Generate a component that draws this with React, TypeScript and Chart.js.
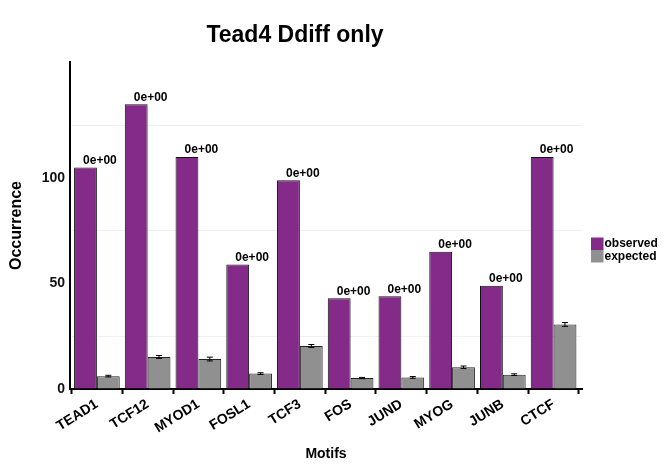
import React, { useEffect, useRef } from "react";
import { Chart, registerables } from "chart.js";

Chart.register(...registerables);

const categories = ["TEAD1", "TCF12", "MYOD1", "FOSL1", "TCF3", "FOS", "JUND", "MYOG", "JUNB", "CTCF"];
const observed = [105, 135, 110, 59, 99, 43, 44, 65, 49, 110];
const expected = [6.1, 15.2, 14.2, 7.3, 20.4, 5.2, 5.5, 10.3, 6.8, 30.6];
const expectedErr = [0.4, 0.7, 0.9, 0.4, 0.7, 0.3, 0.4, 0.6, 0.4, 0.9];
const pLabels = ["0e+00", "0e+00", "0e+00", "0e+00", "0e+00", "0e+00", "0e+00", "0e+00", "0e+00", "0e+00"];
const yTicks = [0, 25, 50, 75, 100, 125];
const yLabelTicks = [0, 50, 100];
const titleText = "Tead4 Ddiff only";
const xTitle = "Motifs";
const yTitle = "Occurrence";
const seriesNames = ["observed", "expected"];

const PURPLE = "#842A88";
const GRAY = "#909090";
const FONT = "'Liberation Sans', Arial, Helvetica, sans-serif";

const overlayPlugin = {
  id: "overlay",
  afterDatasetsDraw(chart: any) {
    const ctx = chart.ctx;
    const xs = chart.scales.x;
    const ys = chart.scales.y;
    const area = chart.chartArea;
    ctx.save();
    // error bars on expected
    const metaE = chart.getDatasetMeta(1);
    ctx.strokeStyle = "#000";
    ctx.lineWidth = 1;
    metaE.data.forEach((bar: any, i: number) => {
      const cx = bar.x;
      const yT = ys.getPixelForValue(expected[i] + expectedErr[i]);
      const yB = ys.getPixelForValue(expected[i] - expectedErr[i]);
      ctx.beginPath();
      ctx.moveTo(cx, yT);
      ctx.lineTo(cx, yB);
      ctx.moveTo(cx - 3, yT);
      ctx.lineTo(cx + 3, yT);
      ctx.moveTo(cx - 3, yB);
      ctx.lineTo(cx + 3, yB);
      ctx.stroke();
    });
    // p-value labels
    ctx.fillStyle = "#000";
    ctx.font = `bold 12px ${FONT}`;
    ctx.textAlign = "center";
    ctx.textBaseline = "alphabetic";
    categories.forEach((_, i) => {
      const cx = xs.getPixelForValue(i) + 3;
      const y = ys.getPixelForValue(observed[i]) - 3.5;
      ctx.fillText(pLabels[i], cx, y);
    });
    // title
    ctx.font = `bold 23px ${FONT}`;
    ctx.textAlign = "center";
    ctx.textBaseline = "middle";
    ctx.fillText(titleText, 295, 36);
    // x title
    ctx.font = `bold 14px ${FONT}`;
    ctx.fillText(xTitle, (area.left + area.right) / 2, 454);
    // y title
    ctx.save();
    ctx.translate(17, (area.top + area.bottom) / 2);
    ctx.rotate(-Math.PI / 2);
    ctx.font = `bold 16px ${FONT}`;
    ctx.fillText(yTitle, 0, 0);
    ctx.restore();
    // legend
    const colors = [PURPLE, GRAY];
    ctx.font = `bold 12px ${FONT}`;
    ctx.textAlign = "left";
    ctx.textBaseline = "middle";
    seriesNames.forEach((name, k) => {
      const top = 237.5 + k * 12.5;
      ctx.fillStyle = colors[k];
      ctx.fillRect(591, top, 12.5, 12.5);
      ctx.fillStyle = "#000";
      ctx.fillText(name, 604.5, top + 6.5);
    });
    ctx.restore();
  },
};

export default function App() {
  const ref = useRef<HTMLCanvasElement>(null);
  useEffect(() => {
    if (!ref.current) return;
    const chart = new Chart(ref.current, {
      type: "bar",
      data: {
        datasets: [
          {
            label: seriesNames[0],
            data: categories.map((_, i) => ({ x: i, y: observed[i] })),
            backgroundColor: PURPLE,
            borderColor: "#111",
            borderWidth: 1,
          },
          {
            label: seriesNames[1],
            data: categories.map((_, i) => ({ x: i, y: expected[i] })),
            backgroundColor: GRAY,
            borderColor: "#222",
            borderWidth: 1,
          },
        ],
      },
      plugins: [overlayPlugin],
      options: {
        animation: false,
        responsive: false,
        devicePixelRatio: 1,
        layout: { padding: { top: 62, right: 86, left: 0, bottom: 0 } },
        datasets: { bar: { categoryPercentage: 0.9, barPercentage: 1.0 } },
        plugins: {
          legend: { display: false },
          title: { display: false },
          tooltip: { enabled: false },
        },
        scales: {
          x: {
            type: "linear",
            min: -0.53,
            max: 9.56,
            offset: false,
            afterFit: (s: any) => {
              s.height = 83;
            },
            afterBuildTicks: (s: any) => {
              s.ticks = categories.map((_, i) => ({ value: i }));
            },
            border: { display: true, color: "#000", width: 2 },
            grid: {
              drawOnChartArea: false,
              drawTicks: true,
              tickLength: 5,
              tickColor: "#000",
              tickWidth: 2,
              color: "transparent",
            },
            ticks: {
              autoSkip: false,
              minRotation: 32,
              maxRotation: 32,
              padding: 2,
              color: "#000",
              font: { family: FONT, size: 14, weight: "bold" },
              callback: (v: any) => categories[Math.round(Number(v))] ?? "",
            },
          },
          y: {
            type: "linear",
            min: 0,
            max: 155,
            afterFit: (s: any) => {
              s.width = 70;
            },
            afterBuildTicks: (s: any) => {
              s.ticks = yTicks.map((v) => ({ value: v }));
            },
            border: { display: true, color: "#000", width: 2 },
            grid: {
              drawTicks: false,
              color: (c: any) =>
                c.tick && yLabelTicks.includes(c.tick.value) ? "transparent" : "#f0f0f0",
              lineWidth: 1,
            },
            ticks: {
              padding: 5,
              color: "#111",
              font: { family: FONT, size: 14, weight: "bold" },
              callback: (v: any) => (yLabelTicks.includes(Number(v)) ? String(v) : ""),
            },
          },
        },
      },
    } as any);
    return () => chart.destroy();
  }, []);
  return (
    <div style={{ position: "fixed", left: 0, top: 0, width: 668, height: 472, background: "#fff" }}>
      <canvas ref={ref} width={668} height={472} style={{ width: 668, height: 472 }} />
    </div>
  );
}
